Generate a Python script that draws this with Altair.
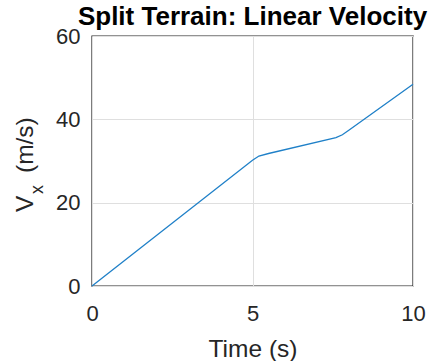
import altair as alt
import pandas as pd

# Forward velocity over the run
time_s = [0.0, 5.0, 5.2, 5.5, 7.6, 7.8, 8.0, 10.0]
vel_x = [0.0, 30.2, 31.2, 31.8, 35.6, 36.3, 37.4, 48.4]

x_ticks = [0, 5, 10]
y_ticks = [0, 20, 40, 60]

title_text = "Split Terrain: Linear Velocity"
x_title = "Time (s)"
y_title_main = "V"
y_title_sub = "x"
y_title_unit = "(m/s)"

W, H = 321, 250
FONT = "Liberation Sans"
INK = "#262626"
GRID = "#dfdfdf"
LINE = "#1f80c8"

df = pd.DataFrame({"t": time_s, "v": vel_x})

line = alt.Chart(df).mark_line(color=LINE, strokeWidth=1.3).encode(
    x=alt.X(
        "t:Q",
        scale=alt.Scale(domain=[0, 10], nice=False, zero=False),
        axis=alt.Axis(
            values=x_ticks, title=x_title, ticks=False, domain=False, grid=True,
            gridColor=GRID, gridWidth=1, labelFontSize=22, labelPadding=17,
            labelColor=INK, labelFont=FONT, labelFlush=False,
            titleFont=FONT, titleFontSize=24.5, titleFontWeight="normal",
            titleColor=INK, titleBaseline="alphabetic", titleY=70,
        ),
    ),
    y=alt.Y(
        "v:Q",
        scale=alt.Scale(domain=[0, 60], nice=False),
        axis=alt.Axis(
            values=y_ticks, title=None, ticks=False, domain=False, grid=True,
            gridColor=GRID, gridWidth=1, labelFontSize=22, labelPadding=12,
            labelColor=INK, labelFont=FONT, labelFlush=False,
        ),
    ),
)


def label(text, size, x, y, angle=0, align="left", weight="normal", color=INK):
    return alt.Chart(pd.DataFrame({"s": [text]})).mark_text(
        font=FONT, fontSize=size, fontWeight=weight, color=color,
        align=align, baseline="alphabetic", angle=angle,
    ).encode(x=alt.value(x), y=alt.value(y), text="s:N")


title_mark = label(title_text, 26, W / 2, -11, align="center", weight="bold", color="#000000")
v_mark = label(y_title_main, 24.5, -59, 176, angle=270)
sub_mark = label(y_title_sub, 18, -49, 158, angle=270)
unit_mark = label(y_title_unit, 24.5, -59, 137, angle=270)

chart = alt.layer(line, title_mark, v_mark, sub_mark, unit_mark).properties(
    width=W,
    height=H,
    autosize=alt.AutoSizeParams(type="none"),
    padding={"left": 92, "top": 36, "right": 29, "bottom": 75},
    background="white",
).configure_view(stroke=INK, strokeWidth=1.4)

chart.save("out.html", embed_options={"renderer": "svg", "actions": False})
